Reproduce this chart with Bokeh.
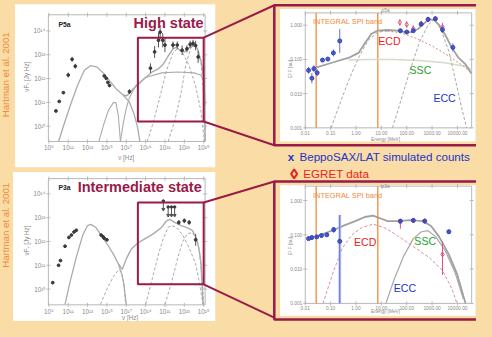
import numpy as np
from bokeh.plotting import figure
from bokeh.models import Range1d, LinearScale, GlobalInlineStyleSheet
from bokeh.core.properties import value
from bokeh.embed import file_html
from bokeh.resources import INLINE

# ---------------- data (log10 values) ----------------
# Left panels: log10(nu [Hz]) vs log10(nuFnu [Jy Hz])
hi_sync_lognu = [10.0, 10.67, 11.33, 12.0, 12.67, 13.33, 14.0, 14.67, 15.33, 16.0, 16.67, 17.33, 17.83, 18.17, 18.4]
hi_sync_logf = [9.36, 10.21, 11.01, 11.75, 12.35, 12.55, 12.48, 12.21, 11.88, 11.55, 11.31, 11.01, 10.48, 9.95, 9.36]
hi_bump_lognu = [14.17, 14.67, 15.17, 15.67, 15.93, 16.17, 16.4]
hi_bump_logf = [9.36, 10.08, 10.68, 10.99, 10.99, 10.48, 9.36]
hi_ssc_lognu = [16.4, 16.67, 17.0, 17.33, 18.0, 19.0, 20.67, 22.33, 24.0, 24.67, 25.0, 25.1, 25.15]
hi_ssc_logf = [9.36, 10.08, 10.75, 11.21, 11.71, 12.05, 12.24, 12.28, 12.24, 12.15, 11.95, 11.28, 9.36]
hi_total_lognu = [16.67, 17.07, 17.67, 18.33, 19.0, 19.67, 20.33, 20.83, 21.33, 21.83, 22.17, 22.6, 23.0, 23.43, 23.9, 24.33, 24.73, 25.0, 25.15]
hi_total_logf = [11.31, 11.28, 11.55, 11.79, 12.05, 12.28, 12.41, 12.61, 12.95, 13.25, 13.31, 13.17, 13.12, 13.28, 13.41, 13.28, 12.75, 12.08, 10.88]
hi_ecd_lognu = [19.17, 19.83, 20.5, 21.17, 21.83, 22.27, 22.83, 23.5, 24.17, 24.73, 25.07]
hi_ecd_logf = [9.36, 10.21, 11.28, 12.35, 13.08, 13.25, 13.08, 12.55, 11.68, 10.61, 9.36]
hi_ecc_lognu = [21.33, 22.0, 22.67, 23.17, 23.67, 24.0, 24.4, 24.73, 25.0, 25.15]
hi_ecc_logf = [9.36, 10.21, 11.41, 12.61, 13.28, 13.41, 13.21, 12.61, 11.28, 9.36]
hi_obs_lognu = [9.73, 10.07, 10.5, 11.0, 11.4, 11.73, 14.73, 14.93, 15.1, 15.27, 17.33, 19.5, 19.93, 20.33, 20.5, 20.77,
                21.0, 21.83, 22.27, 22.77, 23.27, 23.6, 23.9, 24.17, 24.43]
hi_obs_logf = [10.64, 11.04, 11.41, 12.15, 12.81, 12.52, 12.11, 12.01, 11.84, 11.71, 11.45, 12.44, 13.12, 13.61, 13.95, 13.61,
               13.41, 13.41, 13.41, 13.19, 13.25, 13.44, 13.48, 13.39, 12.91]
hi_obs_err = [0, 0, 0, 0.1, 0.1, 0.1, 0.05, 0.05, 0.05, 0.05, 0.1, 0.2, 0.25, 0.3, 0.3, 0.3,
              0.3, 0.15, 0.15, 0.2, 0.15, 0.15, 0.15, 0.2, 0.25]

mid_sync_lognu = [10.67, 11.17, 11.83, 12.5, 13.0, 13.33, 13.83, 14.5, 15.17, 15.67, 16.17, 16.5, 16.73, 17.0]
mid_sync_logf = [9.36, 10.27, 11.33, 12.27, 12.67, 12.72, 12.6, 12.2, 11.8, 11.47, 11.07, 10.67, 10.27, 9.36]
mid_bump_lognu = [14.33, 15.0, 15.67, 16.17, 16.5, 16.73, 16.93]
mid_bump_logf = [9.36, 10.0, 10.53, 10.8, 10.73, 10.27, 9.36]
mid_total_lognu = [16.17, 16.6, 17.0, 17.5, 18.17, 19.0, 19.83, 20.67, 21.17, 21.5, 22.0, 22.67, 23.33, 23.83, 24.17, 24.5, 24.73, 24.93]
mid_total_logf = [11.07, 10.83, 11.27, 11.67, 11.93, 12.13, 12.33, 12.6, 12.87, 12.93, 12.8, 12.67, 12.57, 12.47, 12.2, 11.73, 11.07, 9.36]
mid_ecd_lognu = [19.0, 19.67, 20.33, 20.83, 21.33, 21.67, 22.17, 22.83, 23.5, 24.17, 24.67, 24.93]
mid_ecd_logf = [9.36, 10.4, 11.47, 12.13, 12.6, 12.67, 12.6, 12.27, 11.73, 11.07, 10.0, 9.36]
mid_ecc_lognu = [21.0, 21.67, 22.33, 22.83, 23.33, 23.83, 24.27, 24.6, 24.87, 25.0]
mid_ecc_logf = [9.36, 10.27, 11.33, 12.0, 12.33, 12.37, 12.13, 11.47, 10.27, 9.36]
mid_obs_lognu = [9.4, 10.0, 10.2, 10.67, 11.07, 11.33, 11.6, 11.83, 14.4, 14.6, 14.73, 15.0, 22.43, 23.0, 23.5, 24.17]
mid_obs_logf = [10.27, 11.0, 11.2, 11.8, 12.17, 12.27, 12.4, 12.47, 12.27, 12.2, 12.13, 12.07, 12.8, 12.87, 12.8, 12.07]
mid_obs_err = [0, 0, 0, 0, 0.05, 0, 0, 0, 0.05, 0.05, 0.05, 0.05, 0.1, 0.1, 0.1, 0.25]
mid_ul_lognu = [20.83, 21.33, 21.67, 22.0]
mid_ul_logf = [13.7, 13.45, 13.45, 13.45]

# Right panels: log10(E [MeV]) vs log10(F)
SPI_BAND_LOG = [-1.57, 0.86]
hr_total_loge = [-1.55, -0.92, -0.28, 0.1, 0.35, 0.61, 0.86, 1.24, 1.63, 1.94, 2.2, 2.45, 2.71, 2.9, 3.09, 3.28, 3.53, 3.79, 4.04, 4.3, 4.55]
hr_total_logf = [-1.23, -1.09, -0.95, -0.81, -0.53, -0.25, -0.16, -0.14, -0.16, -0.2, -0.2, -0.11, 0.07, 0.17, 0.15, 0.0, -0.3, -0.67, -0.95, -1.13, -1.41]
hr_ssc_loge = [-0.3, 0.5, 1.5, 2.5, 3.5, 4.3, 4.55]
hr_ssc_logf = [-1.02, -1.0, -1.0, -1.03, -1.1, -1.2, -1.3]
hr_ecd_rise_loge = [-0.98, -0.66, -0.28, 0.1, 0.48, 0.86, 1.24]
hr_ecd_rise_logf = [-3.0, -2.34, -1.6, -0.95, -0.44, -0.2, -0.17]
hr_ecd_fall_loge = [1.24, 1.75, 2.39, 3.03, 3.66, 4.3, 4.55]
hr_ecd_fall_logf = [-0.17, -0.22, -0.39, -0.62, -0.9, -1.23, -1.4]
hr_ecc_loge = [1.44, 1.75, 2.13, 2.51, 2.84, 3.09, 3.34, 3.66, 3.92, 4.17, 4.36]
hr_ecc_logf = [-3.0, -2.25, -1.32, -0.48, 0.0, 0.17, -0.11, -0.76, -1.6, -2.43, -3.0]
hr_sax_loge = [-1.87, -1.74, -1.66, -1.53, -1.32, -1.11, -0.89, -0.64, 1.75, 2.0, 2.26, 2.57, 2.84, 3.13, 3.41, 3.82]
hr_sax_logf = [-1.32, -1.55, -1.27, -1.39, -1.02, -0.99, -0.81, -0.46, -0.16, -0.2, -0.16, 0.03, 0.17, 0.19, -0.13, -0.65]
hr_sax_err = [0.1, 0.15, 0.1, 0.1, 0.05, 0.05, 0.1, 0.35, 0.05, 0.05, 0.05, 0.05, 0.05, 0.05, 0.1, 0.12]
hr_egret_loge = [1.73, 2.0, 2.26, 2.57, 2.84, 3.13, 3.41]
hr_egret_logf = [0.08, 0.02, -0.1, 0.05, 0.17, 0.19, -0.05]
hr_egret_err = [0.1, 0.1, 0.1, 0.08, 0.06, 0.06, 0.12]

mr_total_loge = [-1.55, -1.17, -0.79, -0.41, -0.03, 0.35, 0.67, 0.93, 1.24, 1.63, 2.13, 2.64, 2.96, 3.28, 3.66, 3.98, 4.23, 4.32]
mr_total_logf = [-1.04, -0.94, -0.83, -0.71, -0.6, -0.48, -0.44, -0.51, -0.6, -0.6, -0.57, -0.6, -0.74, -1.06, -1.57, -2.13, -2.78, -3.0]
mr_ecd_loge = [-1.3, -0.92, -0.54, -0.16, 0.22, 0.67, 1.12, 1.63, 2.26, 2.9, 3.41, 3.79, 3.98]
mr_ecd_logf = [-3.0, -2.13, -1.39, -1.0, -0.79, -0.69, -0.79, -1.02, -1.34, -1.67, -2.04, -2.59, -3.0]
mr_ecc_loge = [1.18, 1.5, 1.88, 2.26, 2.58, 2.84, 3.15, 3.53, 3.92, 4.23]
mr_ecc_logf = [-3.0, -2.31, -1.62, -1.11, -0.91, -0.88, -1.06, -1.48, -2.13, -2.87]
mr_sax_loge = [-1.87, -1.74, -1.55, -1.36, -1.15, -0.88, -0.64, 1.75, 2.26, 2.71, 3.66]
mr_sax_logf = [-1.11, -1.08, -1.06, -1.02, -1.0, -0.85, -1.19, -0.6, -0.58, -0.6, -0.91]
mr_sax_errlo = [0.05, 0.05, 0.05, 0.05, 0.05, 0.08, 1.81, 0.04, 0.04, 0.04, 0.06]
mr_sax_errhi = [0.05, 0.05, 0.05, 0.05, 0.05, 0.08, 0.77, 0.04, 0.04, 0.04, 0.06]
mr_egret_loge = [1.75, 2.26, 2.71, 3.41]
mr_egret_logf = [-0.62, -0.58, -0.6, -1.57]
mr_egret_errlo = [0.2, 0.05, 0.05, 0.6]
mr_egret_errhi = [0.05, 0.05, 0.05, 0.37]

left_xticks = [9, 11, 13, 15, 17, 19, 21, 23, 25]
left_yticks = [10, 11, 12, 13, 14]
right_xticks = [-2, -1, 0, 1, 2, 3, 4]
right_xlabels = ["0.01", "0.10", "1.00", "10.00", "100.00", "1000.00", "10000.00"]
right_yticks = [-3, -2, -1, 0]
right_ylabels = ["0.001", "0.010", "0.100", "1.000"]

# ---------------- style ----------------
FONT = value("Liberation Sans")
BG = "#f9dca6"
MAROON = "#9a1a48"
GRAY = "#ababab"
AXG = "#8a8a8a"
ORANGE = "#f08a3c"
BLUE = "#2233cc"
RED = "#ee2222"
GREEN = "#2ca02c"
K = 476 / 492.0  # canvas units -> screen pixels


def fs(px):
    return "%.1fpx" % (px * K)


W, H = 492, 337
p = figure(width=476, height=321, x_range=Range1d(0, W), y_range=Range1d(H, 0),
           x_axis_location=None, y_axis_location=None, output_backend="svg",
           toolbar_location=None, min_border=0)
p.grid.visible = False
p.outline_line_color = None
p.background_fill_color = BG
p.border_fill_color = BG
p.stylesheets = [GlobalInlineStyleSheet(css="body{background:%s;}" % BG)]


def sup(n):
    return "10" + str(n).translate(str.maketrans("-0123456789", "⁻⁰¹²³⁴⁵⁶⁷⁸⁹"))


def sub(xlog, ylog, xt, yt):
    # panel coordinates are decades (log10 of the plotted quantity)
    return p.subplot(x_source=Range1d(*xlog), y_source=Range1d(*ylog),
                     x_scale=LinearScale(), y_scale=LinearScale(),
                     x_target=Range1d(*xt), y_target=Range1d(*yt))


def frame(xt, yt):
    p.quad(left=[xt[0]], right=[xt[1]], top=[yt[1]], bottom=[yt[0]], fill_color=None,
           line_color="#b8b8b8", line_width=1)


def errbars(xy, x, y, lo, hi, color, width=1.0, alpha=1.0):
    xy.segment(x0=x, x1=x,
               y0=[a - e for a, e in zip(y, lo)],
               y1=[a + e for a, e in zip(y, hi)],
               line_color=color, line_width=width, line_alpha=alpha)


def axes(xy, xlog, ylog, xt_vals, xt_labels, yt_vals, yt_labels, size):
    xmin, xmax = xlog
    ymin, ymax = ylog
    n = len(xt_vals)
    for yy in (ymin, ymax):
        xy.scatter(x=xt_vals, y=[yy] * n, marker="dash", angle=np.pi / 2, size=4, line_color="#b8b8b8")
    m = len(yt_vals)
    for xx in (xmin, xmax):
        xy.scatter(x=[xx] * m, y=yt_vals, marker="dash", size=4, line_color="#b8b8b8")
    xy.text(x=xt_vals, y=[ymin] * n, text=xt_labels, text_align="center", text_baseline="top",
            y_offset=3, text_font=FONT, text_font_size=fs(size), text_color=AXG)
    xy.text(x=[xmin] * m, y=yt_vals, text=yt_labels, text_align="right", text_baseline="middle",
            x_offset=-3, text_font=FONT, text_font_size=fs(size), text_color=AXG)


# ---------------- page decoration ----------------
p.quad(left=[15, 13], right=[222, 222], top=[4, 180], bottom=[175, 337], fill_color="white", line_color=None)
p.quad(left=[283, 283], right=[497, 497], top=[5, 190], bottom=[152, 335], fill_color=BG,
       line_color=MAROON, line_width=2.5)
p.quad(left=[289, 289], right=[491, 491], top=[9, 194], bottom=[148, 331], fill_color="white", line_color=None)

# ---------------- panel geometry ----------------
LX = (8.95, 25.15)
TLY = (9.36, 14.68)
BLY = (9.34, 14.64)
RX = (-2.0, 4.56)
TRY = (-3.0, 0.36)
BRY = (-3.0, 0.42)
TL_T = ((49.5, 211.5), (148, 15))
BL_T = ((49.5, 211.5), (319.5, 187))
TR_T = ((315, 487), (133.7, 13))
BR_T = ((315, 487), (318, 194.9))

for xt, yt in (TL_T, BL_T, TR_T, BR_T):
    frame(xt, yt)

left_xlabels = [sup(v) for v in left_xticks]
left_ylabels = [sup(v) for v in left_yticks]
PT = "#3a3a3a"

# ---------------- top-left: high state ----------------
tl = sub(LX, TLY, *TL_T)
axes(tl, LX, TLY, left_xticks, left_xlabels, left_yticks, left_ylabels, 6.5)
tl.line(hi_sync_lognu, hi_sync_logf, line_color=GRAY, line_width=1.3)
tl.line(hi_bump_lognu, hi_bump_logf, line_color=GRAY, line_width=1.1)
tl.line(hi_ssc_lognu, hi_ssc_logf, line_color=GRAY, line_width=1.1)
tl.line(hi_total_lognu, hi_total_logf, line_color=GRAY, line_width=1.4)
tl.line(hi_ecd_lognu, hi_ecd_logf, line_color=GRAY, line_width=1, line_dash="3 2")
tl.line(hi_ecc_lognu, hi_ecc_logf, line_color=GRAY, line_width=1, line_dash="3 2")
errbars(tl, hi_obs_lognu, hi_obs_logf, hi_obs_err, hi_obs_err, "#555555")
tl.scatter(hi_obs_lognu, hi_obs_logf, size=2.8, fill_color=PT, line_color=PT)

# ---------------- bottom-left: intermediate state ----------------
bl = sub(LX, BLY, *BL_T)
axes(bl, LX, BLY, left_xticks, left_xlabels, left_yticks, left_ylabels, 6.5)
bl.line(mid_sync_lognu, mid_sync_logf, line_color=GRAY, line_width=1.3)
bl.line(mid_bump_lognu, mid_bump_logf, line_color=GRAY, line_width=1, line_dash="3 2")
bl.line(mid_total_lognu, mid_total_logf, line_color=GRAY, line_width=1.4)
bl.line(mid_ecd_lognu, mid_ecd_logf, line_color=GRAY, line_width=1, line_dash="3 2")
bl.line(mid_ecc_lognu, mid_ecc_logf, line_color=GRAY, line_width=1, line_dash="3 2")
errbars(bl, mid_obs_lognu, mid_obs_logf, mid_obs_err, mid_obs_err, "#555555")
bl.scatter(mid_obs_lognu, mid_obs_logf, size=2.8, fill_color=PT, line_color=PT)
ul_end = [v - 0.35 for v in mid_ul_logf]
bl.segment(x0=mid_ul_lognu, x1=mid_ul_lognu, y0=mid_ul_logf, y1=ul_end, line_color="#555555", line_width=1)
bl.scatter(mid_ul_lognu, ul_end, marker="inverted_triangle", size=3, fill_color="#555555", line_color="#555555")
bl.scatter(mid_ul_lognu, mid_ul_logf, size=2.5, fill_color=PT, line_color=PT)

# ---------------- top-right: p5a ----------------
tr = sub(RX, TRY, *TR_T)
axes(tr, RX, TRY, right_xticks, right_xlabels, right_yticks, right_ylabels, 5)
tr.segment(x0=SPI_BAND_LOG, x1=SPI_BAND_LOG, y0=[TRY[0]] * 2, y1=[TRY[1]] * 2, line_color=ORANGE, line_width=1.3)
tr.line(hr_ssc_loge, hr_ssc_logf, line_color="#d2dccb", line_width=1.5)
tr.line(hr_ecd_rise_loge, hr_ecd_rise_logf, line_color="#a8a8a8", line_width=1, line_dash="3 2")
tr.line(hr_ecd_fall_loge, hr_ecd_fall_logf, line_color="#e08888", line_width=1, line_dash="2 2")
tr.line(hr_ecc_loge, hr_ecc_logf, line_color="#a8a8a8", line_width=1, line_dash="3 2")
tr.line(hr_total_loge, hr_total_logf, line_color="#a0a0a0", line_width=1.8)
errbars(tr, hr_egret_loge, hr_egret_logf, hr_egret_err, hr_egret_err, "#e07090")
tr.scatter(hr_egret_loge, hr_egret_logf, marker="diamond", size=5, fill_color=None, line_color="#e05080", line_width=1)
errbars(tr, hr_sax_loge, hr_sax_logf, hr_sax_err, hr_sax_err, "#6070e0")
tr.scatter(hr_sax_loge, hr_sax_logf, size=4, fill_color="#3344bb", line_color="#3344bb", fill_alpha=0.8)

# ---------------- bottom-right: p3a ----------------
br = sub(RX, BRY, *BR_T)
axes(br, RX, BRY, right_xticks, right_xlabels, right_yticks, right_ylabels, 5)
br.segment(x0=SPI_BAND_LOG, x1=SPI_BAND_LOG, y0=[BRY[0]] * 2, y1=[BRY[1]] * 2, line_color=ORANGE, line_width=1.3)
br.line(mr_ecd_loge, mr_ecd_logf, line_color="#d89098", line_width=1, line_dash="3 2")
br.line(mr_ecc_loge, mr_ecc_logf, line_color="#a8a8a8", line_width=1.2)
br.line(mr_total_loge, mr_total_logf, line_color="#a0a0a0", line_width=1.8)
errbars(br, mr_sax_loge, mr_sax_logf, mr_sax_errlo, mr_sax_errhi, "#b8c0f0", width=3, alpha=0.8)
errbars(br, mr_sax_loge, mr_sax_logf, mr_sax_errlo, mr_sax_errhi, "#5566cc")
errbars(br, mr_egret_loge, mr_egret_logf, mr_egret_errlo, mr_egret_errhi, "#e05080")
br.scatter(mr_egret_loge, mr_egret_logf, marker="diamond", size=5, fill_color=None, line_color="#e05080", line_width=1)
br.scatter(mr_sax_loge, mr_sax_logf, size=4, fill_color="#3344bb", line_color="#3344bb", fill_alpha=0.8)

# ---------------- zoom boxes and connectors ----------------
p.quad(left=[142, 142], right=[210, 210], top=[39, 212], bottom=[127, 298], fill_color=None,
       line_color=MAROON, line_width=2)
p.segment(x0=[210, 210, 210, 210], y0=[39, 127, 212, 298], x1=[283, 283, 283, 283], y1=[5, 152, 190, 333],
          line_color=MAROON, line_width=2)


# ---------------- texts ----------------
def txt(x, y, s, size, color, align="left", baseline="middle", style="normal", angle=0.0):
    p.text(x=[x], y=[y], text=[s], text_font=FONT, text_font_size=fs(size), text_color=color,
           text_align=align, text_baseline=baseline, text_font_style=style, angle=angle)


txt(210, 24, "High state", 15, MAROON, align="right", style="bold")
txt(208, 196, "Intermediate state", 15, MAROON, align="right", style="bold")
txt(60, 25, "P5a", 7, "#222222", style="bold")
txt(60, 196, "P3a", 7, "#222222", style="bold")
txt(5, 78, "Hartman et al. 2001", 10, ORANGE, align="center", angle=np.pi / 2)
txt(5, 236, "Hartman et al. 2001", 10, ORANGE, align="center", angle=np.pi / 2)
txt(27, 80, "νFᵥ [Jy Hz]", 6.5, AXG, align="center", angle=np.pi / 2)
txt(27, 252, "νFᵥ [Jy Hz]", 6.5, AXG, align="center", angle=np.pi / 2)
txt(130, 165, "ν [Hz]", 6.5, AXG, align="center")
txt(134, 333, "ν [Hz]", 6.5, AXG, align="center")

txt(398, 10, "p5a", 5, AXG, align="center")
txt(398, 195, "p3a", 5, AXG, align="center")
txt(398, 146, "Energy [MeV]", 5, AXG, align="center")
txt(398, 326, "Energy [MeV]", 5, AXG, align="center")
txt(300, 72, "E² F [au]", 5, AXG, align="center", angle=np.pi / 2)
txt(300, 258, "E² F [au]", 5, AXG, align="center", angle=np.pi / 2)

txt(323, 22, "INTEGRAL SPI band", 7.7, ORANGE)
txt(323, 205, "INTEGRAL SPI band", 7.7, ORANGE)
txt(402, 42, "ECD", 11, RED, align="center")
txt(434, 73, "SSC", 11, GREEN, align="center")
txt(459, 102, "ECC", 11, BLUE, align="center")
txt(377, 254, "ECD", 11, RED, align="center")
txt(439, 252, "SSC", 11, GREEN, align="center")
txt(418, 302, "ECC", 11, BLUE, align="center")

txt(297, 164, "x", 12, BLUE, style="bold")
txt(309, 164, "BeppoSAX/LAT simulated counts", 12, BLUE)
p.scatter(x=[303.5], y=[182], marker="diamond", size=9, fill_color=None, line_color=RED, line_width=2)
txt(313, 182, "EGRET data", 12, RED)

open("out.html", "w").write(file_html(p, INLINE))
